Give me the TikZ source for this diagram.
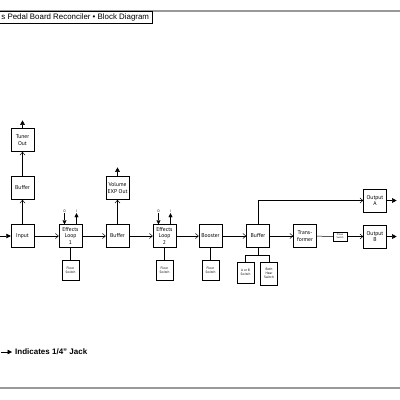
\documentclass[tikz,border=0pt]{standalone}
\usepackage{fontspec}
\setmainfont{Liberation Sans}
\newfontfamily\blockfont{PT Sans}
\usetikzlibrary{arrows.meta,positioning}

\begin{document}
\begin{tikzpicture}[%
    x=1pt, y=-1pt,
    block/.style={
        draw,
        rectangle,
        minimum size = 23,
        inner sep = 0,
        align = center,
        font = \blockfont\fontsize{5.6}{6.4}\selectfont,
        },
    footsw/.style={
        draw,
        rectangle,
        minimum width = 17,
        minimum height = 20,
        inner sep = 0,
        align = center,
        font = \blockfont\fontsize{3.4}{4}\selectfont,
        },
    phasesw/.style={
        draw,
        rectangle,
        minimum width = 14,
        minimum height = 9,
        inner sep = 0,
        align = center,
        font = \blockfont\fontsize{2.4}{2.8}\selectfont,
        },
    signal/.style={-{Straight Barb[length=3pt, width=5pt]}, line width=0.5pt},
    wire/.style={line width=0.5pt},
    jack/.style={-{Triangle[length=4.5pt, width=4.5pt]}, line width=0.5pt},
    loopjack/.style={-{Triangle[length=4pt, width=4pt]}, line width=0.4pt},
    pin/.style={font=\blockfont\fontsize{3.5}{4}\selectfont, inner sep=0.5pt},
]
\useasboundingbox (0,0) rectangle (400,400);

% frame and title
\draw[line width=1.4pt, black!40] (0,11) -- (400,11);
\draw[line width=1.4pt, black!40] (0,388) -- (400,388);
\node[draw, line width=0.5pt, fill=white, anchor=north west, minimum height=12,
      minimum width=154, inner xsep=1.8pt, inner ysep=1.5pt,
      font=\fontsize{7.9}{8}\selectfont] (title) at (-2,11)
      {s Pedal Board Reconciler • Block Diagram};

% main signal chain
\node[block] (input)  at (22.5,236) {Input};
\node[block] (buf1)   at (22.5,188) {Buffer};
\node[block] (tuner)  at (22.5,140) {Tuner\\Out};
\node[block] (loop1)  at (70.5,236) {Effects\\Loop\\1};
\node[block] (buf2)   at (117.5,236) {Buffer};
\node[block] (volexp) at (117.5,188) {Volume\\EXP Out};
\node[block] (loop2)  at (164.5,236) {Effects\\Loop\\2};
\node[block] (boost)  at (210.5,236) {Booster};
\node[block] (buf3)   at (258,236) {Buffer};
\node[block] (trans)  at (305,236) {Trans-\\former};
\node[phasesw] (phase) at (340,236.5) {Phase\\Switch};
\node[block] (outA)   at (375,200.5) {Output\\A};
\node[block] (outB)   at (375,236.5) {Output\\B};

% switches
\node[footsw] (fsw1) at (70.5,270) {Floor\\Switch};
\node[footsw] (fsw2) at (164.5,270) {Floor\\Switch};
\node[footsw] (fsw3) at (210.5,270) {Floor\\Switch};
\node[footsw, minimum height=21] (absw)   at (245.5,272.5) {A or B\\Switch};
\node[footsw, minimum height=23] (bothsw) at (269,273.5) {Both\\Hear\\Switch};

% connections
\draw[signal] (input) -- (loop1);
\draw[signal] (loop1) -- (buf2);
\draw[signal] (buf2) -- (loop2);
\draw[signal] (loop2) -- (boost);
\draw[signal] (boost) -- (buf3);
\draw[signal] (buf3) -- (trans);
\draw[wire]   (trans) -- (phase);
\draw[signal] (phase) -- (outB);
\draw[signal] (buf3.north) |- (outA.west);
\draw[signal] (input) -- (buf1);
\draw[signal] (buf1) -- (tuner);
\draw[signal] (buf2) -- (volexp);

\foreach \lp/\sw in {loop1/fsw1, loop2/fsw2, boost/fsw3}
    \draw[wire] (\lp) -- (\sw);
\draw[wire] (buf3.south) -- ++(0,8) coordinate (split)
            (absw.north) |- (split) -| (bothsw.north);

% 1/4" jacks
\coordinate[left=11pt of input.west] (injack);
\coordinate[above=8pt of tuner.north] (tunerjack);
\coordinate[above=9pt of volexp.north] (volexpjack);
\coordinate[right=10pt of outA.east] (outAjack);
\coordinate[right=10pt of outB.east] (outBjack);
\draw[jack] (injack) -- (input.west);
\draw[jack] (tuner.north) -- (tunerjack);
\draw[jack] (volexp.north) -- (volexpjack);
\draw[jack] (outA.east) -- (outAjack);
\draw[jack] (outB.east) -- (outBjack);

% send / return on the loops
\foreach \lp in {loop1, loop2} {
    \coordinate (\lp rtn) at ([xshift=-6pt]\lp.north);
    \coordinate (\lp snd) at ([xshift=6pt]\lp.north);
    \node[pin] (\lp o) at ([yshift=13pt]\lp rtn) {O};
    \node[pin] (\lp i) at ([yshift=13pt]\lp snd) {I};
    \draw[loopjack] (\lp o.south) -- (\lp rtn);
    \draw[loopjack] (\lp snd) -- (\lp i.south);
}

% legend
\coordinate (legstart) at (1,352);
\coordinate (legend) at (12,352);
\draw[jack] (legstart) -- (legend);
\node[anchor=west, inner sep=0, font=\bfseries\fontsize{8}{9}\selectfont] (legtext)
    at (15,352) {Indicates 1/4” Jack};
\end{tikzpicture}
\end{document}
